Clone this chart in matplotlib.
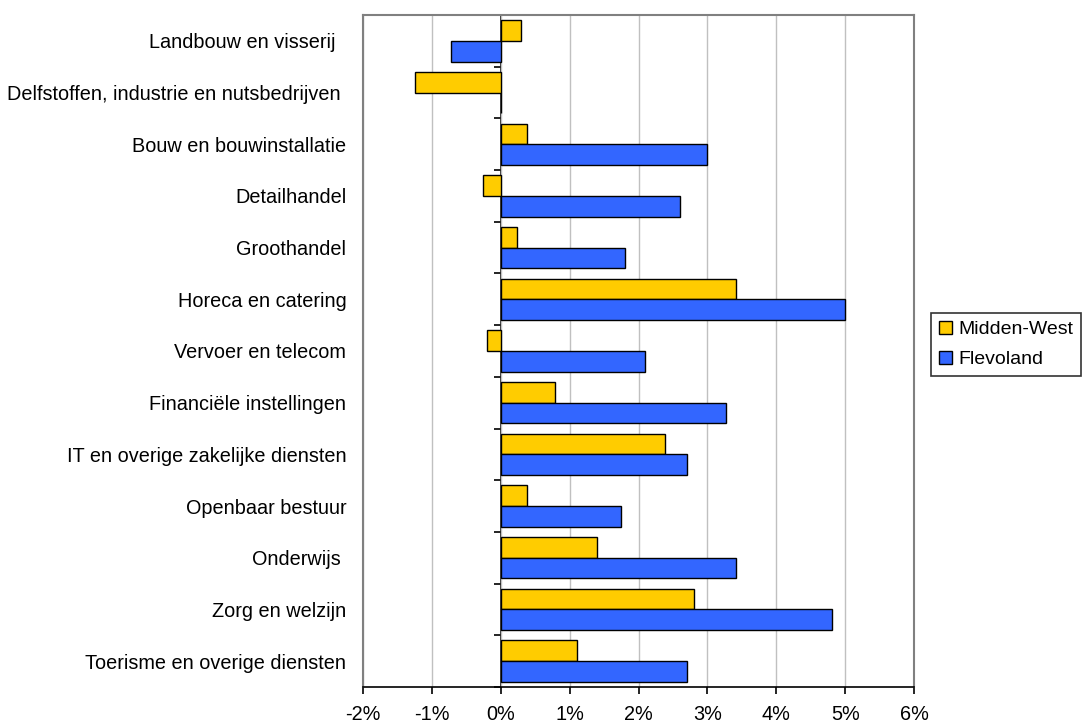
import numpy as np
import matplotlib
matplotlib.use("Agg")
import matplotlib.pyplot as plt
from matplotlib.ticker import FuncFormatter

plt.rcParams["font.family"] = ["Liberation Sans", "DejaVu Sans"]

# sectoren (boven naar beneden)
sectors = [
    "Landbouw en visserij  ",
    "Delfstoffen, industrie en nutsbedrijven ",
    "Bouw en bouwinstallatie",
    "Detailhandel",
    "Groothandel",
    "Horeca en catering",
    "Vervoer en telecom",
    "Financiële instellingen",
    "IT en overige zakelijke diensten",
    "Openbaar bestuur",
    "Onderwijs ",
    "Zorg en welzijn",
    "Toerisme en overige diensten",
]
# groei in %
midden_west = [0.29, -1.25, 0.38, -0.26, 0.24, 3.41, -0.20, 0.79, 2.39, 0.38, 1.40, 2.80, 1.11]
flevoland = [-0.72, 0.0, 3.00, 2.60, 1.81, 5.00, 2.10, 3.27, 2.71, 1.75, 3.41, 4.81, 2.71]

fig = plt.figure(figsize=(10.84, 7.25), dpi=100)
ax = fig.add_axes([363 / 1084, 1 - 687 / 725, 551 / 1084, 672 / 725])

y = np.arange(len(sectors))
h = 0.4
ax.barh(y - h / 2, midden_west, height=h, color="#FFCC00", edgecolor="black",
        linewidth=1.0, label="Midden-West", zorder=3)
ax.barh(y + h / 2, flevoland, height=h, color="#3366FF", edgecolor="black",
        linewidth=1.0, label="Flevoland", zorder=3)

ax.set_xlim(-2, 6)
ax.set_ylim(len(sectors) - 0.5, -0.5)
ax.set_xticks(np.arange(-2, 7, 1))
ax.xaxis.set_major_formatter(FuncFormatter(lambda v, p: f"{v:.0f}%"))
ax.grid(axis="x", color="#c0c0c0", linewidth=1.0, zorder=0)

ax.set_yticks(y)
ax.set_yticklabels(sectors)
ax.tick_params(axis="y", length=0, pad=12, labelsize=14.3)
ax.tick_params(axis="x", direction="out", length=5, width=1.2, pad=8, labelsize=14.3)

for s in ["left", "top", "right"]:
    ax.spines[s].set_color("#808080")
    ax.spines[s].set_linewidth(1.5)
ax.spines["bottom"].set_color("black")
ax.spines["bottom"].set_linewidth(1.2)

# nul-as met streepjes op de categoriegrenzen
zero = ax.secondary_yaxis(2 / 8)
zero.spines["left"].set_color("black")
zero.spines["left"].set_linewidth(1.2)
zero.set_yticks(np.arange(len(sectors) + 1) - 0.5)
zero.tick_params(axis="y", length=5, width=1.2, labelleft=False, direction="out")

leg = ax.legend(loc="center left", bbox_to_anchor=(931 / 1084, 1 - 344.5 / 725),
                bbox_transform=fig.transFigure,
                frameon=True, fancybox=False, edgecolor="black", fontsize=14,
                handlelength=0.7, handleheight=0.7, handletextpad=0.3,
                borderpad=0.4, labelspacing=0.65, borderaxespad=0)
leg.get_frame().set_linewidth(1.2)

fig.savefig("out.png", dpi=100)
